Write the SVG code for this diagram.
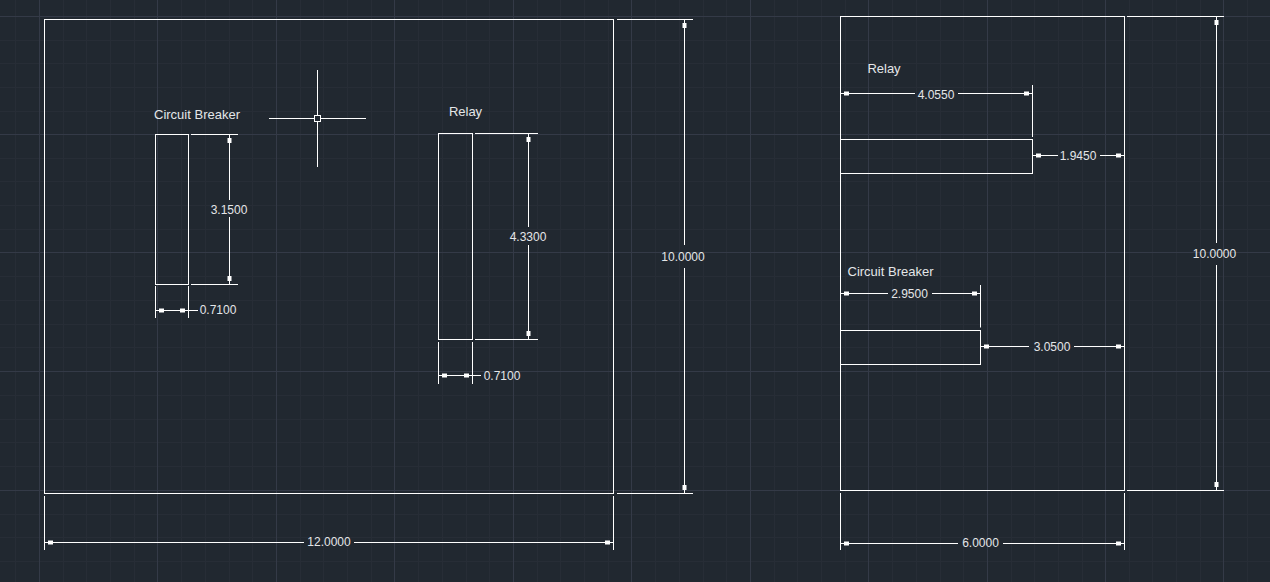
<svg xmlns="http://www.w3.org/2000/svg" width="1270" height="582" viewBox="0 0 1270 582">
<style>
.minor{stroke:#272d36;stroke-width:1;fill:none}
.major{stroke:#343a47;stroke-width:1;fill:none}
.s{stroke:#fff;stroke-width:1;fill:none}
.d{stroke:#fff;stroke-width:1;fill:none;marker-start:url(#t);marker-end:url(#t)}
.ds{stroke:#fff;stroke-width:1;fill:none;marker-start:url(#t)}
.de{stroke:#fff;stroke-width:1;fill:none;marker-end:url(#t)}
text{font-family:"Liberation Sans",Arial,sans-serif;font-size:13px;fill:#e4e6e8;dominant-baseline:central}
.n{font-size:12px}
.m{text-anchor:middle}
</style>
<defs>
<marker id="t" markerUnits="userSpaceOnUse" markerWidth="10" markerHeight="6" refX="0" refY="0" orient="auto-start-reverse" overflow="visible">
<rect x="-8" y="-2" width="5" height="4" fill="#fff"/>
</marker>
</defs>
<rect width="1270" height="582" fill="#212830"/>
<path class="minor" d="M15.5 0V582M63.5 0V582M86.5 0V582M110.5 0V582M134.5 0V582M181.5 0V582M205.5 0V582M229.5 0V582M252.5 0V582M300.5 0V582M323.5 0V582M347.5 0V582M371.5 0V582M418.5 0V582M442.5 0V582M466.5 0V582M489.5 0V582M537.5 0V582M560.5 0V582M584.5 0V582M608.5 0V582M655.5 0V582M679.5 0V582M703.5 0V582M726.5 0V582M774.5 0V582M797.5 0V582M821.5 0V582M845.5 0V582M892.5 0V582M916.5 0V582M940.5 0V582M963.5 0V582M1011.5 0V582M1034.5 0V582M1058.5 0V582M1082.5 0V582M1129.5 0V582M1152.5 0V582M1176.5 0V582M1200.5 0V582M1247.5 0V582"/>
<path class="minor" d="M0 40.5H1270M0 63.5H1270M0 87.5H1270M0 111.5H1270M0 158.5H1270M0 181.5H1270M0 205.5H1270M0 229.5H1270M0 276.5H1270M0 300.5H1270M0 324.5H1270M0 347.5H1270M0 395.5H1270M0 419.5H1270M0 442.5H1270M0 466.5H1270M0 514.5H1270M0 537.5H1270M0 561.5H1270"/>
<path class="major" d="M39.5 0V582M157.5 0V582M276.5 0V582M394.5 0V582M513.5 0V582M631.5 0V582M750.5 0V582M868.5 0V582M987.5 0V582M1105.5 0V582M1223.5 0V582"/>
<path class="major" d="M0 16.5H1270M0 134.5H1270M0 252.5H1270M0 371.5H1270M0 490.5H1270"/>

<g id="front-view">
<rect class="s" x="44.5" y="19.5" width="569" height="474"/>
<text x="197" y="114.500" class="m">Circuit Breaker</text>
<rect class="s" x="155.500" y="134.500" width="33" height="150"/>
<text x="465.500" y="111.500" class="m">Relay</text>
<rect class="s" x="438.500" y="133.500" width="34" height="206"/>
</g>
<g id="side-view">
<rect class="s" x="840.500" y="16.500" width="284" height="474"/>
<text x="884" y="68.500" class="m">Relay</text>
<rect class="s" x="840.500" y="139.500" width="192" height="34"/>
<text x="890.500" y="271.500" class="m">Circuit Breaker</text>
<rect class="s" x="840.500" y="330.500" width="140" height="34"/>
</g>
<g id="cursor">
<path class="s" d="M269 118.500H314M321 118.500H366M317.500 70V115M317.500 122V167"/>
<rect class="s" x="314.500" y="115.500" width="6" height="6" fill="#212830"/>
</g>
<g id="connectors">
<path class="s" d="M617 19.500H693M617 493.500H693M44.500 496V550M613.500 496V550"/>
<path class="ds" d="M684.500 20V245"/><path class="de" d="M684.500 268V493"/>
<path class="ds" d="M45 542.500H304"/><path class="de" d="M354 542.500H613"/>
<path class="s" d="M191 134.500H238M191 284.500H238M155.500 286V318M188.500 286V318"/>
<path class="ds" d="M229.500 135V200"/><path class="de" d="M229.500 217V284"/>
<path class="d" d="M156 310.500H188"/><path class="s" d="M188 310.500H198"/>
<path class="s" d="M475 133.500H538M475 339.500H538M438.500 342V384M472.500 342V384"/>
<path class="ds" d="M528.500 134V227"/><path class="de" d="M528.500 245V339"/>
<path class="d" d="M439 375.500H472"/><path class="s" d="M472 375.500H481"/>
<path class="s" d="M1127 16.500H1224M1127 490.500H1224M840.500 493V550M1124.500 493V550"/>
<path class="ds" d="M1216.500 17V243"/><path class="de" d="M1216.500 265V490"/>
<path class="ds" d="M841 543.500H958"/><path class="de" d="M1003 543.500H1124"/>
<path class="s" d="M1032.500 85V137M980.500 285V327.500"/>
<path class="ds" d="M841 93.500H915"/><path class="de" d="M958 93.500H1032"/>
<path class="ds" d="M1033 155.500H1058"/><path class="de" d="M1100 155.500H1124"/>
<path class="ds" d="M841 293.500H888"/><path class="de" d="M932 293.500H980"/>
<path class="ds" d="M981 346.500H1029"/><path class="de" d="M1074 346.500H1124"/>
<text x="683" y="256.500" class="m n">10.0000</text>
<text x="329" y="541.500" class="m n">12.0000</text>
<text x="229" y="209.500" class="m n">3.1500</text>
<text x="218" y="309.500" class="m n">0.7100</text>
<text x="528" y="236.500" class="m n">4.3300</text>
<text x="502" y="375.500" class="m n">0.7100</text>
<text x="1214.500" y="253.500" class="m n">10.0000</text>
<text x="980.500" y="542.500" class="m n">6.0000</text>
<text x="936" y="94.500" class="m n">4.0550</text>
<text x="1078" y="155.500" class="m n">1.9450</text>
<text x="909.500" y="293.500" class="m n">2.9500</text>
<text x="1052" y="346.500" class="m n">3.0500</text>
</g>
</svg>
